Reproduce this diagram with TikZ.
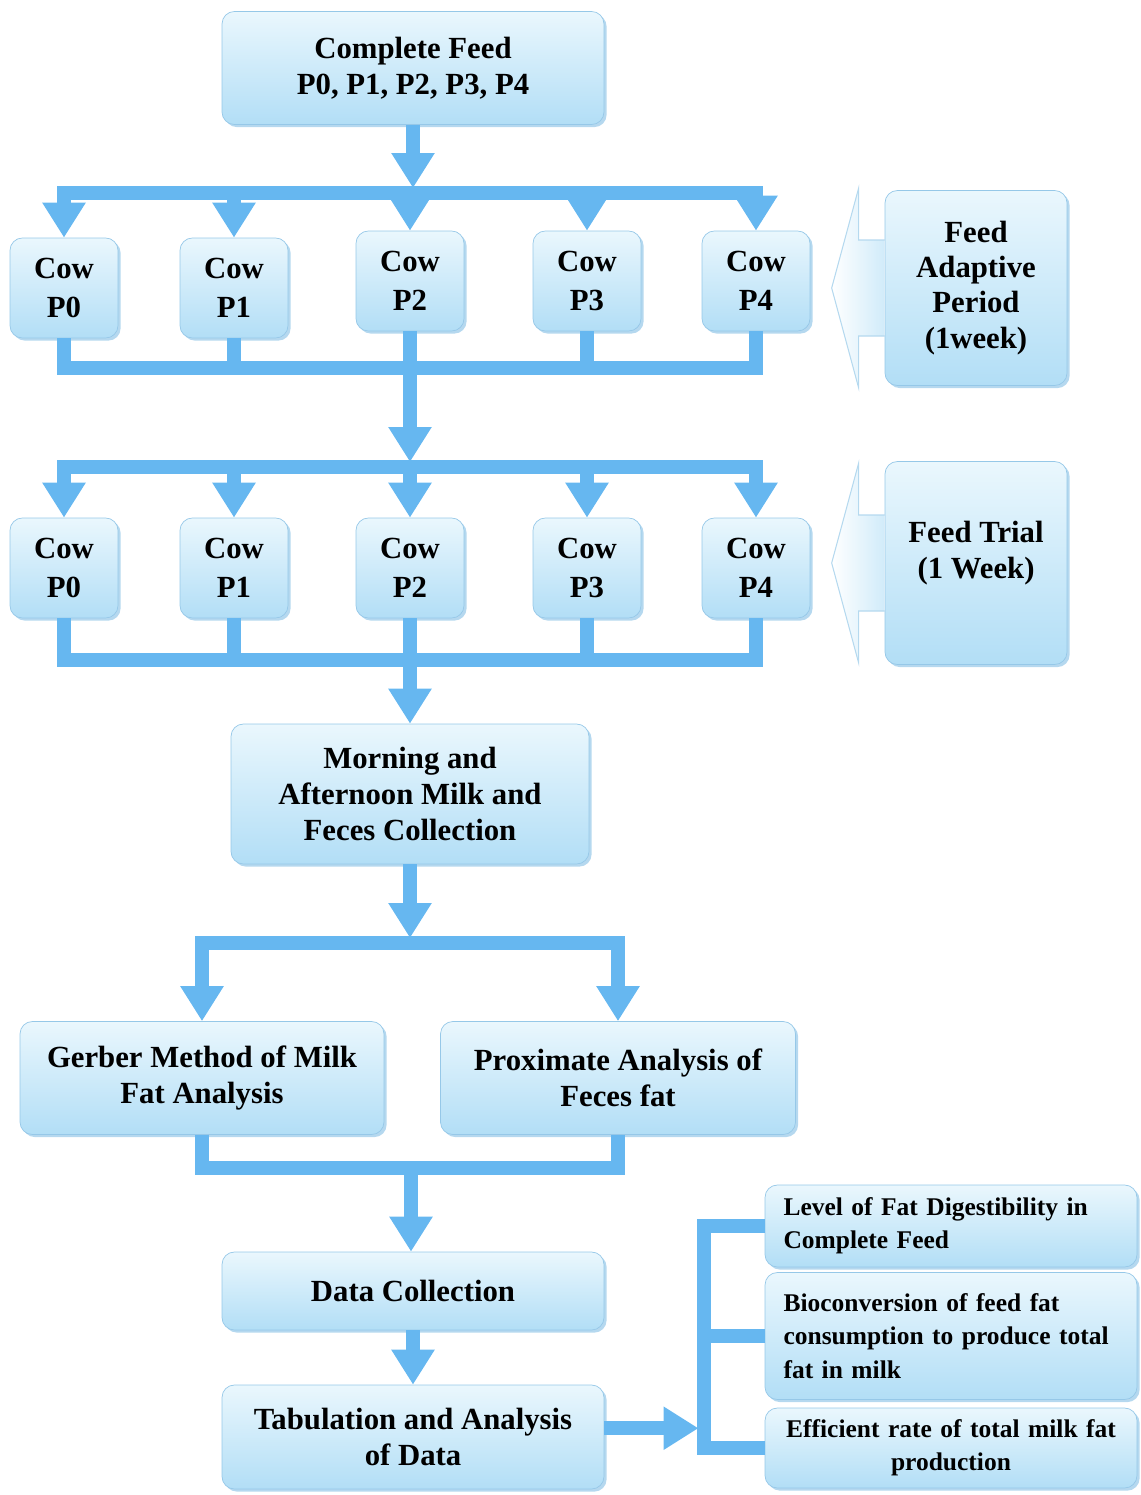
\documentclass[tikz,border=0pt]{standalone}
\usepackage{fontspec}
\setmainfont{Liberation Serif}
\definecolor{flowblue}{RGB}{102,183,240}
\definecolor{boxlight}{RGB}{234,247,253}
\definecolor{boxblue}{RGB}{178,222,246}
\definecolor{boxedge}{RGB}{150,200,232}
\usetikzlibrary{arrows.meta,positioning,shadows,backgrounds,calc}

\begin{document}
\begin{tikzpicture}[x=0.02cm,y=-0.02cm,
    every node/.style={font=\bfseries\fontsize{17.5}{20.5}\selectfont},
    box/.style={draw=boxedge,top color=boxlight,bottom color=boxblue,
        rounded corners=7pt,align=center,inner sep=2pt,
        drop shadow={shadow xshift=1.5pt,shadow yshift=-1.5pt,
                     fill=boxedge,opacity=0.7}},
    cow/.style={box,minimum width=2.16cm,minimum height=2cm,
        font=\bfseries\fontsize{17.5}{22.5}\selectfont},
    note/.style={box,minimum width=7.44cm,text width=6.7cm,align=left,
        font=\bfseries\fontsize{14.5}{19}\selectfont},
    pipe/.style={flowblue,line width=0.27cm},
    arr/.style={pipe,-{Triangle[length=0.7cm,width=0.82cm]}},
    sidearr/.style={draw=boxedge!70,left color=white,right color=boxblue!60,
        line width=0.6pt}]
  \useasboundingbox (0,0) rectangle (1141,1495);

  %% Feed given to all groups
  \node[box,minimum width=7.64cm,minimum height=2.26cm]
        (feed) at (413,68) {Complete Feed\\P0, P1, P2, P3, P4};

  %% Cows in the adaptive period and in the trial
  \foreach \i/\x/\y in {0/64/288,1/234/288,2/410/281,3/587/281,4/756/281}
    \node[cow] (ca\i) at (\x,\y) {Cow\\P\i};
  \foreach \i/\x in {0/64,1/234,2/410,3/587,4/756}
    \node[cow] (cb\i) at (\x,568) {Cow\\P\i};

  %% Periods (right)
  \node[box,minimum width=3.64cm,minimum height=3.9cm,
        font=\bfseries\fontsize{17.5}{20}\selectfont]
        (adapt) at (976,288) {Feed\\Adaptive\\Period\\(1week)};
  \node[box,minimum width=3.64cm,minimum height=4.06cm]
        (trial) at (976,563) {Feed Trial\\(1 Week)\\[-5pt]\mbox{}};

  %% Sampling and analysis
  \node[box,minimum width=7.16cm,minimum height=2.8cm]
        (collect) at (410,794) {Morning and\\Afternoon Milk and\\Feces Collection};
  \node[box,minimum width=7.28cm,minimum height=2.26cm]
        (gerber) at (202,1078) {Gerber Method of Milk\\Fat Analysis};
  \node[box,minimum width=7.1cm,minimum height=2.26cm]
        (prox) at (618,1078) {Proximate Analysis of\\Feces fat};
  \node[box,minimum width=7.64cm,minimum height=1.56cm]
        (data) at (413,1291) {Data Collection};
  \node[box,minimum width=7.64cm,minimum height=2.08cm]
        (tab) at (413,1437) {Tabulation and Analysis\\of Data};

  %% Outcomes
  \node[note,minimum height=1.64cm]
        (lvl) at (951,1226) {Level of Fat Digestibility in\\Complete Feed};
  \node[note,minimum height=2.54cm]
        (bio) at (951,1336) {Bioconversion of feed fat\\consumption to produce total\\fat in milk};
  \node[note,minimum height=1.6cm,align=center]
        (eff) at (951,1448) {Efficient rate of total milk fat\\production};

  %% Junctions
  \coordinate (spA) at (410,193);
  \coordinate (spB) at (410,368);
  \coordinate (spC) at (410,467);
  \coordinate (spD) at (410,660);
  \coordinate (spE) at (410,943);
  \coordinate (spF) at (411,1168);
  \coordinate (brk) at (704,1330);

  %% Side arrows behind the period boxes
  \begin{scope}[on background layer]
    \foreach \n in {adapt,trial}
      \draw[sidearr] (\n.west) ++(0,-48) -- ++(-26,0) -- ++(0,-52)
            -- ++(-27,100) -- ++(27,100) -- ++(0,-52) -- ++(26,0);
  \end{scope}

  \draw[arr,shorten >=0.1cm] (feed.south) -- (feed.south |- spA);
  \draw[pipe,line cap=rect] (ca0 |- spA) -- (ca4 |- spA);
  \foreach \i in {0,...,4}
    \draw[arr] (ca\i |- spA) -- (ca\i);
  \foreach \i in {0,...,4}
    \draw[pipe] (ca\i) -- (ca\i |- spB);
  \draw[pipe,line cap=rect] (ca0 |- spB) -- (ca4 |- spB);

  \draw[arr,shorten >=0.1cm] (spB) -- (spC);
  \draw[pipe,line cap=rect] (cb0 |- spC) -- (cb4 |- spC);
  \foreach \i in {0,...,4}
    \draw[arr] (cb\i |- spC) -- (cb\i);
  \foreach \i in {0,...,4}
    \draw[pipe] (cb\i) -- (cb\i |- spD);
  \draw[pipe,line cap=rect] (cb0 |- spD) -- (cb4 |- spD);

  \draw[arr] (spD) -- (collect);
  \draw[arr,shorten >=0.1cm] (collect) -- (spE);
  \draw[pipe,line cap=rect] (gerber |- spE) -- (prox |- spE);
  \draw[arr] (gerber |- spE) -- (gerber);
  \draw[arr] (prox |- spE) -- (prox);
  \draw[pipe] (gerber) -- (gerber |- spF);
  \draw[pipe] (prox) -- (prox |- spF);
  \draw[pipe,line cap=rect] (gerber |- spF) -- (prox |- spF);
  \draw[arr] (spF) -- (spF |- data.north);
  \draw[arr] (data) -- (tab);

  \draw[arr,shorten >=0.11cm] ([yshift=5pt]tab.east) -- ([yshift=5pt]tab.east -| brk);
  \draw[pipe,line cap=rect] (lvl.west -| brk) -- (eff.west -| brk);
  \foreach \n in {lvl,bio,eff}
    \draw[pipe] (\n.west -| brk) -- (\n.west);
\end{tikzpicture}
\end{document}
